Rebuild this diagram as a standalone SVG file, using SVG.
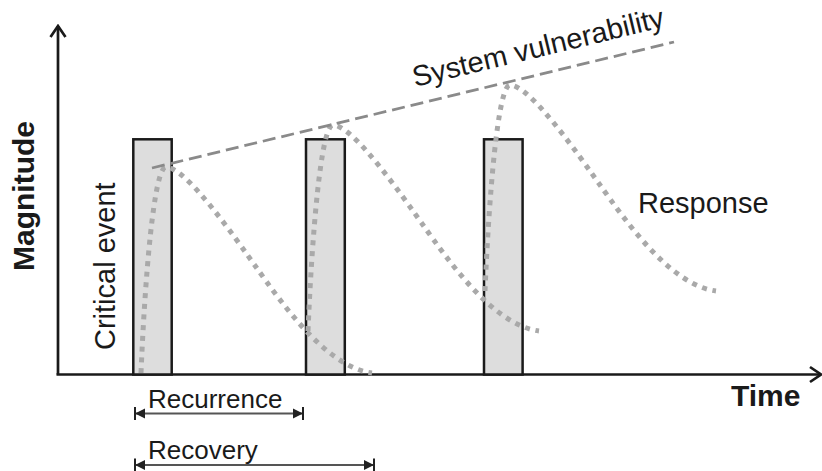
<svg xmlns="http://www.w3.org/2000/svg" xmlns:xlink="http://www.w3.org/1999/xlink" width="822" height="471" viewBox="0 0 822 471">
<style>
  .axis{stroke:#1a1a1a;stroke-width:2.7;fill:none}
  .bar{fill:#dddddd;stroke:#1a1a1a;stroke-width:2.5}
  .resp{fill:none;stroke:#a9a9a9;stroke-width:5;stroke-dasharray:5 5.7}
  .vuln{fill:none;stroke:#8a8a8a;stroke-width:2.8;stroke-dasharray:13 6}
  .dim{stroke:#555;stroke-width:2;fill:none}
  .lbl{font-family:"Liberation Sans",Arial,sans-serif;font-size:29px;fill:#1a1a1a}
  .small{font-size:26px}
  .bold{font-weight:bold;font-size:30px}
</style>
<defs>
  <marker id="open" viewBox="-14 -10 16 20" refX="0" refY="0" markerWidth="16" markerHeight="20" markerUnits="userSpaceOnUse" orient="auto">
    <path d="M-11,-7.5 L0,0 L-11,7.5" fill="none" stroke="#1a1a1a" stroke-width="2.7"/>
  </marker>
  <marker id="dimEnd" viewBox="-12 -8 14 16" refX="0" refY="0" markerWidth="14" markerHeight="16" markerUnits="userSpaceOnUse" orient="auto-start-reverse">
    <path d="M0,0 L-10,-5 L-10,5 Z" fill="#222"/>
    <path d="M0,-6.5 V6.5" stroke="#222" stroke-width="2"/>
  </marker>
  <path id="respShape" d="M-25,206 C-21,110 -12,0 0,0 C20,0 70,72 90,100 C115,135 160,200 206,206"/>
</defs>

<g id="axes">
  <path class="axis" d="M58,374.5 V26" marker-end="url(#open)"/>
  <path class="axis" d="M56.5,374.5 H821" marker-end="url(#open)"/>
</g>

<g id="event1"><rect class="bar" x="133.3" y="139.3" width="38.4" height="235.2"/></g>
<g id="event2"><rect class="bar" x="306" y="139.3" width="38.8" height="235.2"/></g>
<g id="event3"><rect class="bar" x="484" y="139.3" width="38.6" height="235.2"/></g>

<g id="connectors">
  <use xlink:href="#respShape" href="#respShape" class="resp" transform="translate(166,167)"/>
  <use xlink:href="#respShape" href="#respShape" class="resp" transform="translate(333,125)"/>
  <use xlink:href="#respShape" href="#respShape" class="resp" transform="translate(510,85)"/>
  <path class="vuln" d="M152,168 L674,42"/>
  <path class="dim" d="M135,413.5 H303" marker-start="url(#dimEnd)" marker-end="url(#dimEnd)"/>
  <path class="dim" d="M135,465 H374" marker-start="url(#dimEnd)" marker-end="url(#dimEnd)"/>
</g>

<g id="labels">
  <text class="lbl bold" transform="translate(34,271) rotate(-90)">Magnitude</text>
  <text class="lbl" transform="translate(115,350) rotate(-90)">Critical event</text>
  <text class="lbl" transform="translate(415,87) rotate(-13.57)">System vulnerability</text>
  <text class="lbl" x="638" y="213">Response</text>
  <text class="lbl bold" x="731" y="406">Time</text>
  <text class="lbl small" x="148" y="408">Recurrence</text>
  <text class="lbl small" x="148" y="459">Recovery</text>
</g>
</svg>
